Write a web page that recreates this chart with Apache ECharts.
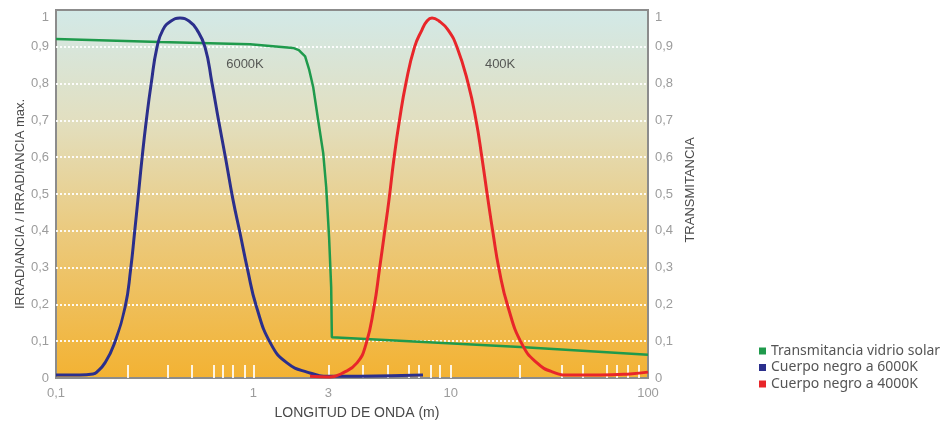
<!DOCTYPE html>
<html>
<head>
<meta charset="utf-8">
<script src="https://cdn.jsdelivr.net/npm/echarts@6/dist/echarts.min.js"></script>
<style>
  html, body { margin: 0; padding: 0; background: #fff; }
  #chart { width: 952px; height: 426px; }
</style>
</head>
<body>
<div id="chart"></div>
<script>
// wavelengths in µm (log axis), values relative 0..1
const greenX = [0.1, 0.336, 0.962, 1.59, 1.70, 1.83, 1.92, 2.01, 2.13, 2.26, 2.34, 2.42, 2.48, 2.50, 22.5, 100];
const greenY = [0.921, 0.913, 0.907, 0.897, 0.891, 0.874, 0.837, 0.791, 0.701, 0.611, 0.519, 0.383, 0.247, 0.111, 0.084, 0.063];

const blueX = [0.1, 0.132, 0.154, 0.161, 0.177, 0.197, 0.224, 0.239, 0.250, 0.260, 0.273, 0.287, 0.304, 0.325, 0.348, 0.383, 0.425,
  0.472, 0.518, 0.569, 0.617, 0.666, 0.723, 0.789, 0.856, 0.934, 1.038, 1.229, 1.481, 1.871, 2.446, 3.47, 7.24];
const blueY = [0.008, 0.008, 0.011, 0.016, 0.041, 0.092, 0.193, 0.296, 0.394, 0.484, 0.598, 0.701, 0.802, 0.899, 0.946, 0.970, 0.978,
  0.970, 0.946, 0.899, 0.802, 0.701, 0.598, 0.484, 0.394, 0.296, 0.193, 0.092, 0.041, 0.016, 0.005, 0.005, 0.008];

const redX = [1.937, 2.446, 2.847, 3.353, 3.724, 4.089, 4.359, 4.620, 4.869, 5.164, 5.505, 5.937, 6.558, 7.157, 7.589, 8.044,
  8.728, 9.694, 10.77, 12.24, 13.44, 14.41, 15.46, 16.39, 17.58, 19.53, 22.99, 27.38, 33.01, 40.25, 57.12, 81.07, 100];
const redY = [0.005, 0.003, 0.014, 0.041, 0.092, 0.193, 0.296, 0.394, 0.484, 0.598, 0.701, 0.802, 0.899, 0.946, 0.970, 0.978,
  0.970, 0.946, 0.899, 0.802, 0.701, 0.598, 0.484, 0.394, 0.296, 0.193, 0.092, 0.041, 0.016, 0.008, 0.008, 0.011, 0.016];

const seriesNames = ["Transmitancia vidrio solar", "Cuerpo negro a 6000K", "Cuerpo negro a 4000K"];
const seriesColors = ["#1f9a4c", "#2b2f8c", "#e8262a"];

// axis tick marks and labels as they sit in the picture
const xTicks = [0.23, 0.37, 0.49, 0.63, 0.70, 0.79, 0.90, 1, 2.4, 3.6, 4.8, 6.1, 6.9, 7.9, 8.8, 10,
  22.5, 36.7, 46.9, 62, 69.7, 79.2, 90];
const xLabelValues = [0.1, 1, 2.4, 10, 100];
const xLabelTexts = ["0,1", "1", "3", "10", "100"];

const noteTexts = ["6000K", "400K"];
const noteX = [0.907, 17.8];
const noteY = [0.853, 0.853];

const FONT = "'Liberation Sans', Arial, sans-serif";
const lg = Math.log10;

function pairs(xs, ys) {
  return xs.map((x, i) => [lg(x), ys[i]]);
}
const labelLogs = xLabelValues.map(lg);
function yFmt(v) {
  // top label sits a little lower in the original
  if (v >= 1) return "{top|1}";
  return String(+v.toFixed(1)).replace(".", ",");
}

const chart = echarts.init(document.getElementById("chart"));

const yCommon = {
  type: "value",
  min: 0,
  max: 1,
  interval: 0.1,
  nameLocation: "middle",
  nameMoveOverlap: false,
  axisLine: { show: false },
  axisTick: { show: false },
  axisLabel: {
    color: "#9c9c9c",
    fontSize: 13,
    fontFamily: FONT,
    margin: 7,
    formatter: yFmt,
    rich: { top: { padding: [14, 0, 0, 0], fontSize: 13, color: "#9c9c9c" } },
  },
};

const option = {
  animation: false,
  textStyle: { fontFamily: FONT },
  grid: {
    left: 56,
    right: 304,
    top: 10,
    bottom: 48,
    containLabel: false,
    outerBoundsMode: "none",
    show: true,
    borderColor: "#8c8c8c",
    borderWidth: 2,
    backgroundColor: new echarts.graphic.LinearGradient(0, 0, 0, 1, [
      { offset: 0, color: "#d2e9e8" },
      { offset: 0.3, color: "#e2dfc0" },
      { offset: 0.6, color: "#ebca7e" },
      { offset: 1, color: "#f3b232" },
    ]),
  },
  legend: {
    orient: "vertical",
    left: 754,
    top: 339,
    icon: "rect",
    itemWidth: 7,
    itemHeight: 7,
    itemGap: 2.5,
    data: seriesNames,
    textStyle: { color: "#555", fontSize: 14, fontFamily: "'Noto Sans', sans-serif", lineHeight: 14 },
  },
  xAxis: {
    type: "value",
    min: -1,
    max: 2,
    name: "LONGITUD DE ONDA (m)",
    nameLocation: "middle",
    nameGap: 28,
    nameMoveOverlap: false,
    nameTextStyle: { color: "#4a4a4a", fontSize: 14, fontFamily: FONT, padding: [0, 0, 0, 10] },
    axisLine: { show: false },
    splitLine: { show: false },
    axisTick: {
      show: true,
      inside: true,
      length: 13,
      customValues: xTicks.map(lg),
      lineStyle: { color: "rgba(255,255,255,0.85)", width: 2 },
    },
    axisLabel: {
      color: "#9c9c9c",
      fontSize: 13,
      fontFamily: FONT,
      margin: 9,
      customValues: labelLogs,
      formatter: (v) => {
        const i = labelLogs.findIndex((l) => Math.abs(l - v) < 1e-6);
        return i >= 0 ? xLabelTexts[i] : "";
      },
    },
  },
  yAxis: [
    Object.assign({}, yCommon, {
      position: "left",
      name: "IRRADIANCIA / IRRADIANCIA max.",
      nameGap: 29,
      nameTextStyle: { color: "#4a4a4a", fontSize: 13, fontFamily: FONT, padding: [0, 20, 0, 0] },
      splitLine: {
        show: true,
        showMinLine: false,
        showMaxLine: false,
        lineStyle: { color: "rgba(255,255,255,0.9)", width: 2, type: [2, 2] },
      },
    }),
    Object.assign({}, yCommon, {
      position: "right",
      name: "TRANSMITANCIA",
      nameGap: 36,
      nameTextStyle: { color: "#4a4a4a", fontSize: 13, fontFamily: FONT, padding: [0, 0, 0, 8] },
      splitLine: { show: false },
    }),
  ],
  series: [
    {
      name: seriesNames[0],
      type: "line",
      yAxisIndex: 1,
      data: pairs(greenX, greenY),
      symbol: "none",
      color: seriesColors[0],
      lineStyle: { width: 2.5, color: seriesColors[0] },
      z: 2,
    },
    {
      name: seriesNames[1],
      type: "line",
      data: pairs(blueX, blueY),
      smooth: 0.5,
      symbol: "none",
      color: seriesColors[1],
      lineStyle: { width: 3, color: seriesColors[1] },
      z: 3,
    },
    {
      name: seriesNames[2],
      type: "line",
      data: pairs(redX, redY),
      smooth: 0.5,
      symbol: "none",
      color: seriesColors[2],
      lineStyle: { width: 3, color: seriesColors[2] },
      z: 3,
    },
    {
      name: "notes",
      type: "scatter",
      symbolSize: 0,
      silent: true,
      data: noteTexts.map((t, i) => ({ value: [lg(noteX[i]), noteY[i]], name: t })),
      label: {
        show: true,
        position: "inside",
        formatter: (p) => p.name,
        color: "#333",
        fontSize: 13,
        fontFamily: FONT,
      },
      z: 5,
    },
  ],
};

chart.setOption(option);
</script>
</body>
</html>
